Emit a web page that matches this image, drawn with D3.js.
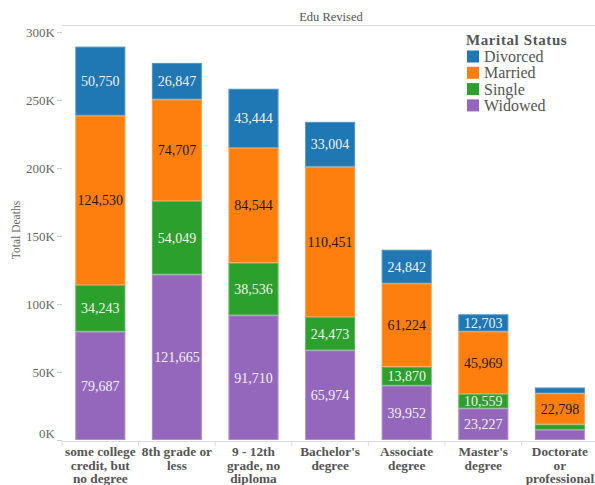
<!DOCTYPE html>
<html><head><meta charset="utf-8">
<script src="https://cdn.jsdelivr.net/npm/d3@7"></script>
<style>body{margin:0;background:#fff}svg{display:block}text{font-family:"Liberation Serif","Times New Roman",serif}</style>
</head><body><svg id="c" width="595" height="485"></svg>
<script>
const categories = [["some college","credit, but","no degree"],["8th grade or","less"],["9 - 12th","grade, no","diploma"],["Bachelor's","degree"],["Associate","degree"],["Master's","degree"],["Doctorate","or","professional"]];
const series = ["Divorced","Married","Single","Widowed"];
const divorced = [50750, 26847, 43444, 33004, 24842, 12703, 4300];
const married  = [124530, 74707, 84544, 110451, 61224, 45969, 22798];
const single   = [34243, 54049, 38536, 24473, 13870, 10559, 4000];
const widowed  = [79687, 121665, 91710, 65974, 39952, 23227, 7500];
const yTicks = [0, 50000, 100000, 150000, 200000, 250000, 300000];
const colors = {Divorced:"#1f77b4", Married:"#ff7f0e", Single:"#2ca02c", Widowed:"#9467bd"};
const labelColors = {Divorced:"#f2f2f2", Married:"#1a1a1a", Single:"#f2f2f2", Widowed:"#f2f2f2"};

const svg = d3.select("#c");
const keys = categories.map(c => c.join(" "));
const rows = keys.map((k,i) => ({key:k, Divorced:divorced[i], Married:married[i], Single:single[i], Widowed:widowed[i]}));
const stack = d3.stack().keys(["Widowed","Single","Married","Divorced"])(rows);

const x = d3.scaleBand().domain(keys).range([62, 598.2]).paddingInner(0.347).paddingOuter(0.1735);
const y = d3.scaleLinear().domain([0, 300000]).range([440, 32]);

// top line
svg.append("line").attr("x1",62).attr("x2",595).attr("y1",25.5).attr("y2",25.5).attr("stroke","#ddd");
// title
svg.append("text").attr("x",331).attr("y",21).attr("text-anchor","middle").attr("font-size",12.5).attr("fill","#555").text("Edu Revised");

// y axis
const yAxis = svg.append("g").attr("transform","translate(62,0)").call(d3.axisLeft(y).tickValues(yTicks).tickSize(5).tickFormat(d => (d/1000)+"K"));
yAxis.select(".domain").remove();
yAxis.selectAll(".tick line").attr("stroke","#ccc");
yAxis.selectAll(".tick text").attr("font-size",13).attr("fill","#666").attr("font-family","Liberation Serif, serif").attr("x",-7);
yAxis.selectAll(".tick").filter(d => d===0).select("text").attr("dy","-0.2em");

svg.append("text").attr("transform","translate(20,230) rotate(-90)").attr("text-anchor","middle").attr("font-size",11.5).attr("fill","#666").text("Total Deaths");

// bars
const g = svg.append("g");
stack.forEach(layer => {
  const k = layer.key;
  layer.forEach((d,i) => {
    const x0 = x(keys[i]), y0 = y(d[1]), h = y(d[0]) - y(d[1]);
    g.append("rect").attr("x",x0).attr("y",y0).attr("width",x.bandwidth()).attr("height",h)
      .attr("fill",colors[k]);
    if (h > 12) {
      g.append("text").attr("x",x0 + x.bandwidth()/2).attr("y",y0 + h/2).attr("dy","0.35em")
        .attr("text-anchor","middle").attr("font-size",14).attr("fill",labelColors[k])
        .text(d3.format(",")(d[1]-d[0]));
    }
  });
});
// bar light borders
stack.forEach(layer => {
  layer.forEach((d,i) => {
    g.append("rect").attr("x",x(keys[i])+0.5).attr("y",y(d[1])+0.5).attr("width",x.bandwidth()-1).attr("height",Math.max(0,y(d[0])-y(d[1])-1))
      .attr("fill","none").attr("stroke","#fff").attr("stroke-opacity",0.25);
  });
});

// x axis
svg.append("line").attr("x1",62).attr("x2",595).attr("y1",441.5).attr("y2",441.5).attr("stroke","#ddd");
keys.forEach((k,i) => {
  const bx = x(k) - x.step()*x.paddingInner()/2;
  svg.append("line").attr("x1",bx).attr("x2",bx).attr("y1",441).attr("y2",446).attr("stroke","#ddd");
  const t = svg.append("text").attr("x",x(k)+x.bandwidth()/2).attr("y",456).attr("text-anchor","middle")
    .attr("font-size",13.3).attr("font-weight","bold").attr("fill","#555");
  categories[i].forEach((line,j) => t.append("tspan").attr("x",x(k)+x.bandwidth()/2).attr("dy", j===0?0:13.7).text(line));
});

// legend
const lg = svg.append("g");
lg.append("text").attr("x",466).attr("y",45).attr("font-size",15).attr("font-weight","bold").attr("fill","#555").attr("letter-spacing",0.6).text("Marital Status");
series.forEach((s,i) => {
  lg.append("rect").attr("x",467).attr("y",50.5+i*16.3).attr("width",12).attr("height",12).attr("fill",colors[s]);
  lg.append("text").attr("x",484).attr("y",62+i*16.3).attr("font-size",16).attr("fill","#555").text(s);
});
</script></body></html>
